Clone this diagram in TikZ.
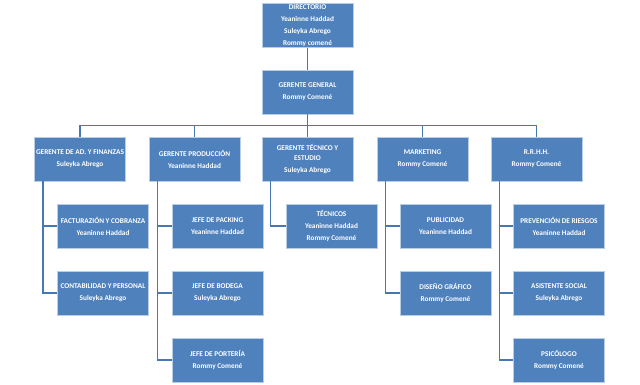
\documentclass[tikz,border=0pt]{standalone}
\usepackage{fontspec}
\setmainfont{Carlito}
\usepackage{tikz}
\usetikzlibrary{arrows}

\definecolor{cajazul}{RGB}{79,129,189}
\definecolor{bordeazul}{RGB}{185,205,229}
\definecolor{lineaazul}{RGB}{70,120,180}

\begin{document}
\begin{tikzpicture}[x=1pt,y=-1pt,semithick]
  \tikzstyle{puesto}=[rectangle, fill=cajazul, draw=bordeazul, line width=0.7pt,
    minimum width=91pt, minimum height=44pt, inner sep=0pt, align=center,
    text=white, font=\fontsize{7.3}{12}\selectfont\bfseries]
  \tikzstyle{linea}=[draw=lineaazul, line width=1.6pt]

  \useasboundingbox (0,0) rectangle (640,385);

  % cabeza
  \node[puesto] (dir) at (307.5,25.5) {DIRECTORIO\\Yeaninne Haddad\\Suleyka Abrego\\Rommy comené};
  \node[puesto] (gg)  at (307.5,92)   {GERENTE GENERAL\\Rommy Comené};

  % gerencias
  \node[puesto] (fin)  at (80,159)    {GERENTE DE AD. Y FINANZAS\\Suleyka Abrego};
  \node[puesto] (prod) at (194.5,159) {GERENTE PRODUCCIÓN\\Yeaninne Haddad};
  \node[puesto] (tec)  at (307.5,159) {GERENTE TÉCNICO Y\\[-2pt]ESTUDIO\\Suleyka Abrego};
  \node[puesto] (mkt)  at (422.5,159) {MARKETING\\Rommy Comené};
  \node[puesto] (rh)   at (536.5,159) {R.R.H.H.\\Rommy Comené};

  % areas
  \node[puesto] (fac)  at (103,226)   {FACTURAZIÓN Y COBRANZA\\Yeaninne Haddad};
  \node[puesto] (cont) at (103,293)   {CONTABILIDAD Y PERSONAL\\Suleyka Abrego};
  \node[puesto] (pack) at (217.5,226) {JEFE DE PACKING\\Yeaninne Haddad};
  \node[puesto] (bod)  at (217.5,293) {JEFE DE BODEGA\\Suleyka Abrego};
  \node[puesto] (port) at (217.5,360) {JEFE DE PORTERÍA\\Rommy Comené};
  \node[puesto] (tcs)  at (331.5,226) {TÉCNICOS\\Yeaninne Haddad\\Rommy Comené};
  \node[puesto] (pub)  at (445.5,226) {PUBLICIDAD\\Yeaninne Haddad};
  \node[puesto] (dis)  at (445.5,293) {DISEÑO GRÁFICO\\Rommy Comené};
  \node[puesto] (prev) at (559,226)   {PREVENCIÓN DE RIESGOS\\Yeaninne Haddad};
  \node[puesto] (asis) at (559,293)   {ASISTENTE SOCIAL\\Suleyka Abrego};
  \node[puesto] (psi)  at (559,360)   {PSICÓLOGO\\Rommy Comené};

  \draw[linea]
        (dir) -- (gg)
        (gg.south) -- ++(0,11) -| (fin.north)
        (gg.south) -- ++(0,11) -| (prod.north)
        (gg.south) -- (tec.north)
        (gg.south) -- ++(0,11) -| (mkt.north)
        (gg.south) -- ++(0,11) -| (rh.north);

  \draw[linea]
        ([xshift=9pt]fin.south west)  |- (fac.west)
        ([xshift=9pt]fin.south west)  |- (cont.west)
        ([xshift=9pt]prod.south west) |- (pack.west)
        ([xshift=9pt]prod.south west) |- (bod.west)
        ([xshift=9pt]prod.south west) |- (port.west)
        ([xshift=9pt]tec.south west)  |- (tcs.west)
        ([xshift=9pt]mkt.south west)  |- (pub.west)
        ([xshift=9pt]mkt.south west)  |- (dis.west)
        ([xshift=9pt]rh.south west)   |- (prev.west)
        ([xshift=9pt]rh.south west)   |- (asis.west)
        ([xshift=9pt]rh.south west)   |- (psi.west);
\end{tikzpicture}
\end{document}
